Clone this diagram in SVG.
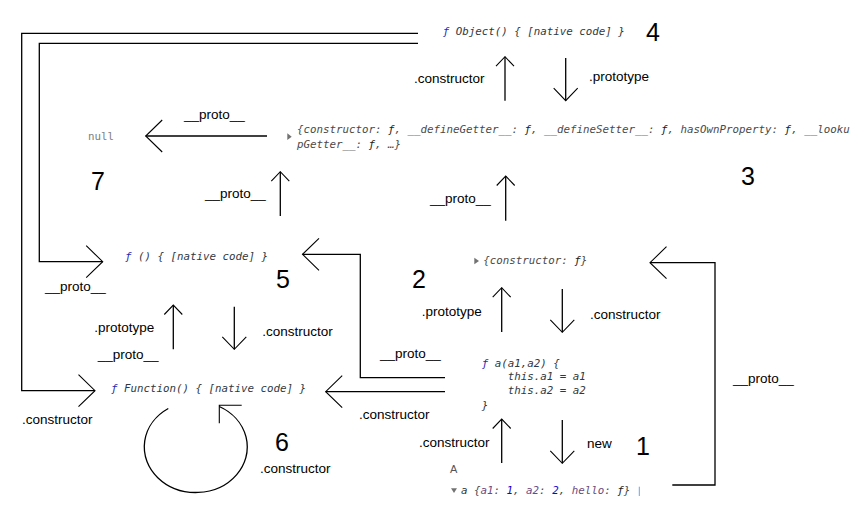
<svg xmlns="http://www.w3.org/2000/svg" width="866" height="506" viewBox="0 0 866 506">
<style>
  .ln { fill: none; stroke: #000; stroke-width: 1.3; }
  .hd { fill: none; stroke: #000; stroke-width: 1.1; }
  .lbl { font-family: "Liberation Sans", Arial, sans-serif; font-size: 13.5px; fill: #000; }
  .num { font-family: "Liberation Sans", Arial, sans-serif; font-size: 25px; fill: #000; }
  .code { font-family: "DejaVu Sans Mono", "Liberation Mono", monospace; font-size: 10.8px; font-style: italic; fill: #4a4a4a; }
  .fn { fill: #2a2ab5; }
  .fk { fill: #222; }
  .kw { fill: #303942; }
  .pk { fill: #6b4a7d; }
  .nb { fill: #1c00cf; }
  .tri { fill: #727272; }
</style>
<defs>
  <marker id="hs" markerUnits="userSpaceOnUse" markerWidth="30" markerHeight="30" refX="0" refY="0" orient="auto" overflow="visible">
    <path class="hd" d="M-9.5,-9 L0,0 L-9.5,9"/>
  </marker>
  <marker id="hm" markerUnits="userSpaceOnUse" markerWidth="30" markerHeight="30" refX="0" refY="0" orient="auto" overflow="visible">
    <path class="hd" d="M-12.5,-12 L0,0 L-12.5,12"/>
  </marker>
  <marker id="hl" markerUnits="userSpaceOnUse" markerWidth="40" markerHeight="40" refX="0" refY="0" orient="auto" overflow="visible">
    <path class="hd" d="M-16.5,-16 L0,0 L-16.5,16"/>
  </marker>
</defs>
<rect width="866" height="506" fill="#fff"/>

<g id="connectors">
  <path class="ln" d="M418,33.3 H21.7 V390.7 H95" marker-end="url(#hl)"/>
  <path class="ln" d="M418,43.3 H39.3 V261.7 H102.7" marker-end="url(#hl)"/>
  <path class="ln" d="M505,100.7 V56.7" marker-end="url(#hs)"/>
  <path class="ln" d="M565.7,58 V100.7" marker-end="url(#hm)"/>
  <path class="ln" d="M267,136 H145.7" marker-end="url(#hl)"/>
  <path class="ln" d="M280.3,216 V171.7" marker-end="url(#hs)"/>
  <path class="ln" d="M505.7,220.7 V176" marker-end="url(#hs)"/>
  <path class="ln" d="M501.7,332 V287.7" marker-end="url(#hs)"/>
  <path class="ln" d="M562.3,289 V332.3" marker-end="url(#hm)"/>
  <path class="ln" d="M445,377.7 H360.3 V254.3 H302.5" marker-end="url(#hl)"/>
  <path class="ln" d="M445,391.7 H325.7" marker-end="url(#hl)"/>
  <path class="ln" d="M501.7,463 V419" marker-end="url(#hs)"/>
  <path class="ln" d="M562.3,420 V463.3" marker-end="url(#hm)"/>
  <path class="ln" d="M672.3,485 H715 V262.7 H650" marker-end="url(#hl)"/>
  <path class="ln" d="M173.3,349.3 V305" marker-end="url(#hs)"/>
  <path class="ln" d="M234.3,306.7 V349.3" marker-end="url(#hm)"/>
  <path class="ln" d="M168.3,408.5 A51.5,45.5 0 1 0 219.3,406.5"/>
  <path class="hd" d="M219.3,423.3 V405.3 H241.7"/>

  <text class="lbl" x="414" y="83.3">.constructor</text>
  <text class="lbl" x="589" y="80.7">.prototype</text>
  <text class="lbl" x="184" y="119.3">__proto__</text>
  <text class="lbl" x="205" y="197.7">__proto__</text>
  <text class="lbl" x="430" y="202.7">__proto__</text>
  <text class="lbl" x="45" y="290.7">__proto__</text>
  <text class="lbl" x="94.3" y="332.3">.prototype</text>
  <text class="lbl" x="97.7" y="359">__proto__</text>
  <text class="lbl" x="262.3" y="336">.constructor</text>
  <text class="lbl" x="380" y="357.7">__proto__</text>
  <text class="lbl" x="421.7" y="316">.prototype</text>
  <text class="lbl" x="590" y="319.3">.constructor</text>
  <text class="lbl" x="22" y="424.3">.constructor</text>
  <text class="lbl" x="359" y="419">.constructor</text>
  <text class="lbl" x="419" y="447.3">.constructor</text>
  <text class="lbl" x="587" y="448.3">new</text>
  <text class="lbl" x="260" y="473.3">.constructor</text>
  <text class="lbl" x="733" y="382.7">__proto__</text>
</g>

<g id="node-object">
  <text class="code" x="442.7" y="35"><tspan class="fn">ƒ</tspan> <tspan class="kw">Object() { [native code] }</tspan></text>
  <text class="num" x="646" y="40.7">4</text>
</g>

<g id="node-object-prototype">
  <polygon class="tri" points="287.3,133.3 291.7,136.7 287.3,140"/>
  <text class="code" x="297" y="132.7">{constructor: <tspan class="fk">ƒ</tspan>, __defineGetter__: <tspan class="fk">ƒ</tspan>, __defineSetter__: <tspan class="fk">ƒ</tspan>, hasOwnProperty: <tspan class="fk">ƒ</tspan>, __looku</text>
  <text class="code" x="297" y="148">pGetter__: <tspan class="fk">ƒ</tspan>, …}</text>
  <text class="num" x="741" y="185">3</text>
</g>

<g id="node-null">
  <text class="code" x="88" y="140" style="font-style:normal;fill:#808080">null</text>
  <text class="num" x="91" y="190">7</text>
</g>

<g id="node-a-prototype">
  <polygon class="tri" points="474.3,257.7 479,261 474.3,264.3"/>
  <text class="code" x="483.3" y="264.3">{constructor: <tspan class="fk">ƒ</tspan>}</text>
  <text class="num" x="412" y="288.3">2</text>
</g>

<g id="node-function-prototype">
  <text class="code" x="125" y="260"><tspan class="fn">ƒ</tspan> <tspan class="kw">() { [native code] }</tspan></text>
  <text class="num" x="276" y="288.3">5</text>
</g>

<g id="node-function">
  <text class="code" x="111" y="391.5"><tspan class="fn">ƒ</tspan> <tspan class="kw">Function() { [native code] }</tspan></text>
  <text class="num" x="275" y="450.7">6</text>
</g>

<g id="node-a">
  <text class="code" x="481.7" y="366.7"><tspan class="fn">ƒ</tspan> <tspan class="kw">a(a1,a2) {</tspan></text>
  <text class="code" x="507.7" y="380.3"><tspan class="kw">this.a1 = a1</tspan></text>
  <text class="code" x="507.7" y="394.3"><tspan class="kw">this.a2 = a2</tspan></text>
  <text class="code" x="481.7" y="408.7"><tspan class="kw">}</tspan></text>
  <text class="num" x="636" y="455">1</text>
</g>

<g id="node-instance">
  <text x="450" y="473.3" style="font-family:'Liberation Sans',Arial,sans-serif;font-size:11px;fill:#555">A</text>
  <polygon class="tri" points="451,488.3 457,488.3 454,493"/>
  <text class="code" x="461" y="494"><tspan class="kw">a</tspan> {<tspan class="pk">a1</tspan>: <tspan class="nb">1</tspan>, <tspan class="pk">a2</tspan>: <tspan class="nb">2</tspan>, <tspan class="pk">hello</tspan>: <tspan class="fk">ƒ</tspan>}</text>
  <line x1="639.3" y1="486.7" x2="639.3" y2="496" stroke="#6aa3e8" stroke-width="1"/>
</g>
</svg>
